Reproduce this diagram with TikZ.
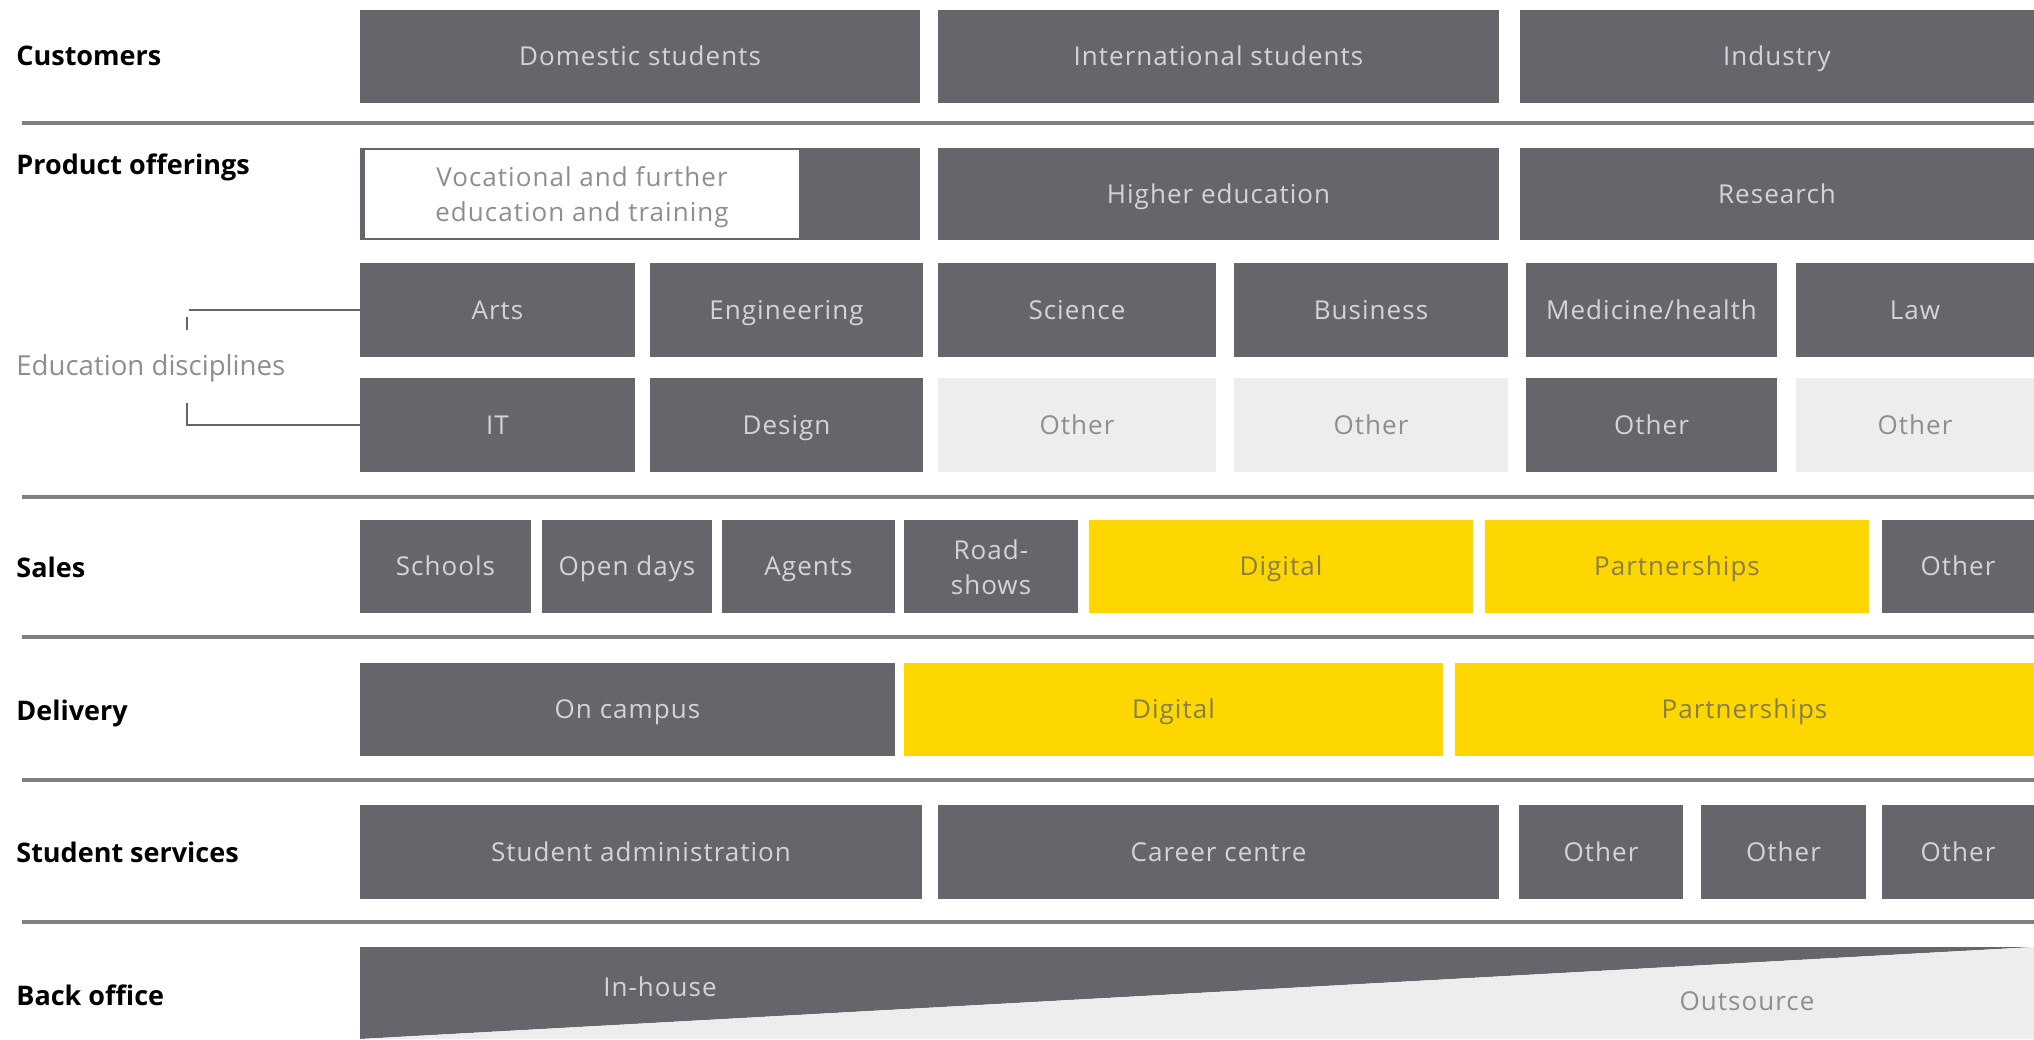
\documentclass[tikz,border=0pt]{standalone}
\usepackage{fontspec}
\setmainfont{Open Sans}
\newfontfamily\boxfont[LetterSpace=4]{Open Sans}
\usetikzlibrary{calc}
\definecolor{dkgrey}{HTML}{65666B}
\definecolor{ltgrey}{HTML}{EDEDED}
\definecolor{eyyellow}{HTML}{FFD700}
\definecolor{txtlight}{HTML}{D4D4D4}
\definecolor{txtgrey}{HTML}{8E8E8E}
\definecolor{txtyl}{HTML}{877E4E}
\definecolor{rulegrey}{HTML}{808080}
% style, name, x1, y1, x2, y2, text  (pixel coordinates)
\newcommand\ebox[7]{%
  \pgfmathsetmacro\ebcx{(#3+#5)/2}%
  \pgfmathsetmacro\ebcy{(#4+#6)/2}%
  \pgfmathsetmacro\ebw{(#5-#3)*0.5}%
  \pgfmathsetmacro\ebh{(#6-#4)*0.5}%
  \node[#1, minimum width=\ebw pt, minimum height=\ebh pt] (#2) at (\ebcx,\ebcy) {#7};}
\begin{document}
\begin{tikzpicture}[x=0.5pt,y=-0.5pt,
  box/.style={rectangle, inner sep=0pt, outer sep=0pt, draw=none,
    font=\boxfont\fontsize{13}{17.5}\selectfont, text height=9.2pt, text depth=0pt},
  two/.style={text height=, text depth=, yshift=-1.7pt},
  dk/.style={box, fill=dkgrey, text=txtlight},
  lt/.style={box, fill=ltgrey, text=txtgrey},
  yl/.style={box, fill=eyyellow, text=txtyl},
  wh/.style={box, fill=white, text=txtgrey},
  lab/.style={anchor=west, inner sep=0pt, text=black, text height=10pt, text depth=0pt,
    font=\bfseries\fontsize{13.5}{15}\selectfont},
  sublab/.style={anchor=west, inner sep=0pt, text=txtgrey, text height=9.8pt, text depth=0pt,
    font=\fontsize{13.8}{15}\selectfont},
  seprule/.style={draw=rulegrey, line width=1.6pt},
  brk/.style={draw=dkgrey, line width=1.3pt}]
\useasboundingbox (0,0) rectangle (2034,1039);

% separators
\draw[seprule] (22,123) -- (2034,123);
\draw[seprule] (22,497) -- (2034,497);
\draw[seprule] (22,637) -- (2034,637);
\draw[seprule] (22,780) -- (2034,780);
\draw[seprule] (22,922) -- (2034,922);

% row labels
\node[lab] (lcust) at (16,55) {Customers};
\node[lab] (lprod) at (16,164) {Product offerings};
\node[sublab] (ldisc) at (16,366) {Education disciplines};
\node[lab] (lsales) at (16,567) {Sales};
\node[lab] (ldel) at (16,710) {Delivery};
\node[lab] (lstud) at (16,852) {Student services};
\node[lab] (lback) at (16,995) {Back office};

% customers
\ebox{dk}{dom}{360}{10}{920}{103}{Domestic students}
\ebox{dk}{intl}{938}{10}{1499}{103}{International students}
\ebox{dk}{ind}{1520}{10}{2034}{103}{Industry}

% product offerings
\ebox{dk}{vocbg}{360}{148}{920}{240}{}
\ebox{wh}{vocbox}{365}{150}{799}{238}{}
\node[wh, two, fill=none] (voc) at (vocbox.center)
  {\begin{tabular}{@{}c@{}}Vocational and further\\education and training\end{tabular}};
\ebox{dk}{he}{938}{148}{1499}{240}{Higher education}
\ebox{dk}{res}{1520}{148}{2034}{240}{Research}

% disciplines row 1
\ebox{dk}{arts}{360}{263}{635}{357}{Arts}
\ebox{dk}{eng}{650}{263}{923}{357}{Engineering}
\ebox{dk}{sci}{938}{263}{1216}{357}{Science}
\ebox{dk}{bus}{1234}{263}{1508}{357}{Business}
\ebox{dk}{med}{1526}{263}{1777}{357}{Medicine/health}
\ebox{dk}{law}{1796}{263}{2034}{357}{Law}

% disciplines row 2
\ebox{dk}{it}{360}{378}{635}{472}{IT}
\ebox{dk}{des}{650}{378}{923}{472}{Design}
\ebox{lt}{oa}{938}{378}{1216}{472}{Other}
\ebox{lt}{ob}{1234}{378}{1508}{472}{Other}
\ebox{dk}{oc}{1526}{378}{1777}{472}{Other}
\ebox{lt}{od}{1796}{378}{2034}{472}{Other}

% bracket
\draw[brk] (arts.west) -- ++(-171,0);
\draw[brk] ($(arts.west)+(-173,7)$) -- ++(0,13);
\draw[brk] ($(it.west)+(-173,-22)$) -- ++(0,22) -- (it.west);

% sales
\ebox{dk}{sch}{360}{520}{531}{613}{Schools}
\ebox{dk}{open}{542}{520}{712}{613}{Open days}
\ebox{dk}{agt}{722}{520}{895}{613}{Agents}
\ebox{dk}{roadbox}{904}{520}{1078}{613}{}
\node[dk, two, fill=none] (road) at (roadbox.center)
  {\begin{tabular}{@{}c@{}}Road-\\shows\end{tabular}};
\ebox{yl}{sdig}{1089}{520}{1473}{613}{Digital}
\ebox{yl}{spart}{1485}{520}{1869}{613}{Partnerships}
\ebox{dk}{soth}{1882}{520}{2034}{613}{Other}

% delivery
\ebox{dk}{camp}{360}{663}{895}{756}{On campus}
\ebox{yl}{ddig}{904}{663}{1443}{756}{Digital}
\ebox{yl}{dpart}{1455}{663}{2034}{756}{Partnerships}

% student services
\ebox{dk}{sadm}{360}{805}{922}{899}{Student administration}
\ebox{dk}{car}{938}{805}{1499}{899}{Career centre}
\ebox{dk}{soa}{1519}{805}{1683}{899}{Other}
\ebox{dk}{sob}{1701}{805}{1866}{899}{Other}
\ebox{dk}{soc}{1882}{805}{2034}{899}{Other}

% back office
\fill[dkgrey] (360,947) -- (2034,947) -- (360,1039) -- cycle;
\fill[ltgrey] (360,1039) -- (2034,947) -- (2034,1039) -- cycle;
\node[box, text=txtlight] (inh) at (660,987) {In-house};
\node[box, text=txtgrey] (outs) at (1747,1001) {Outsource};
\end{tikzpicture}
\end{document}
